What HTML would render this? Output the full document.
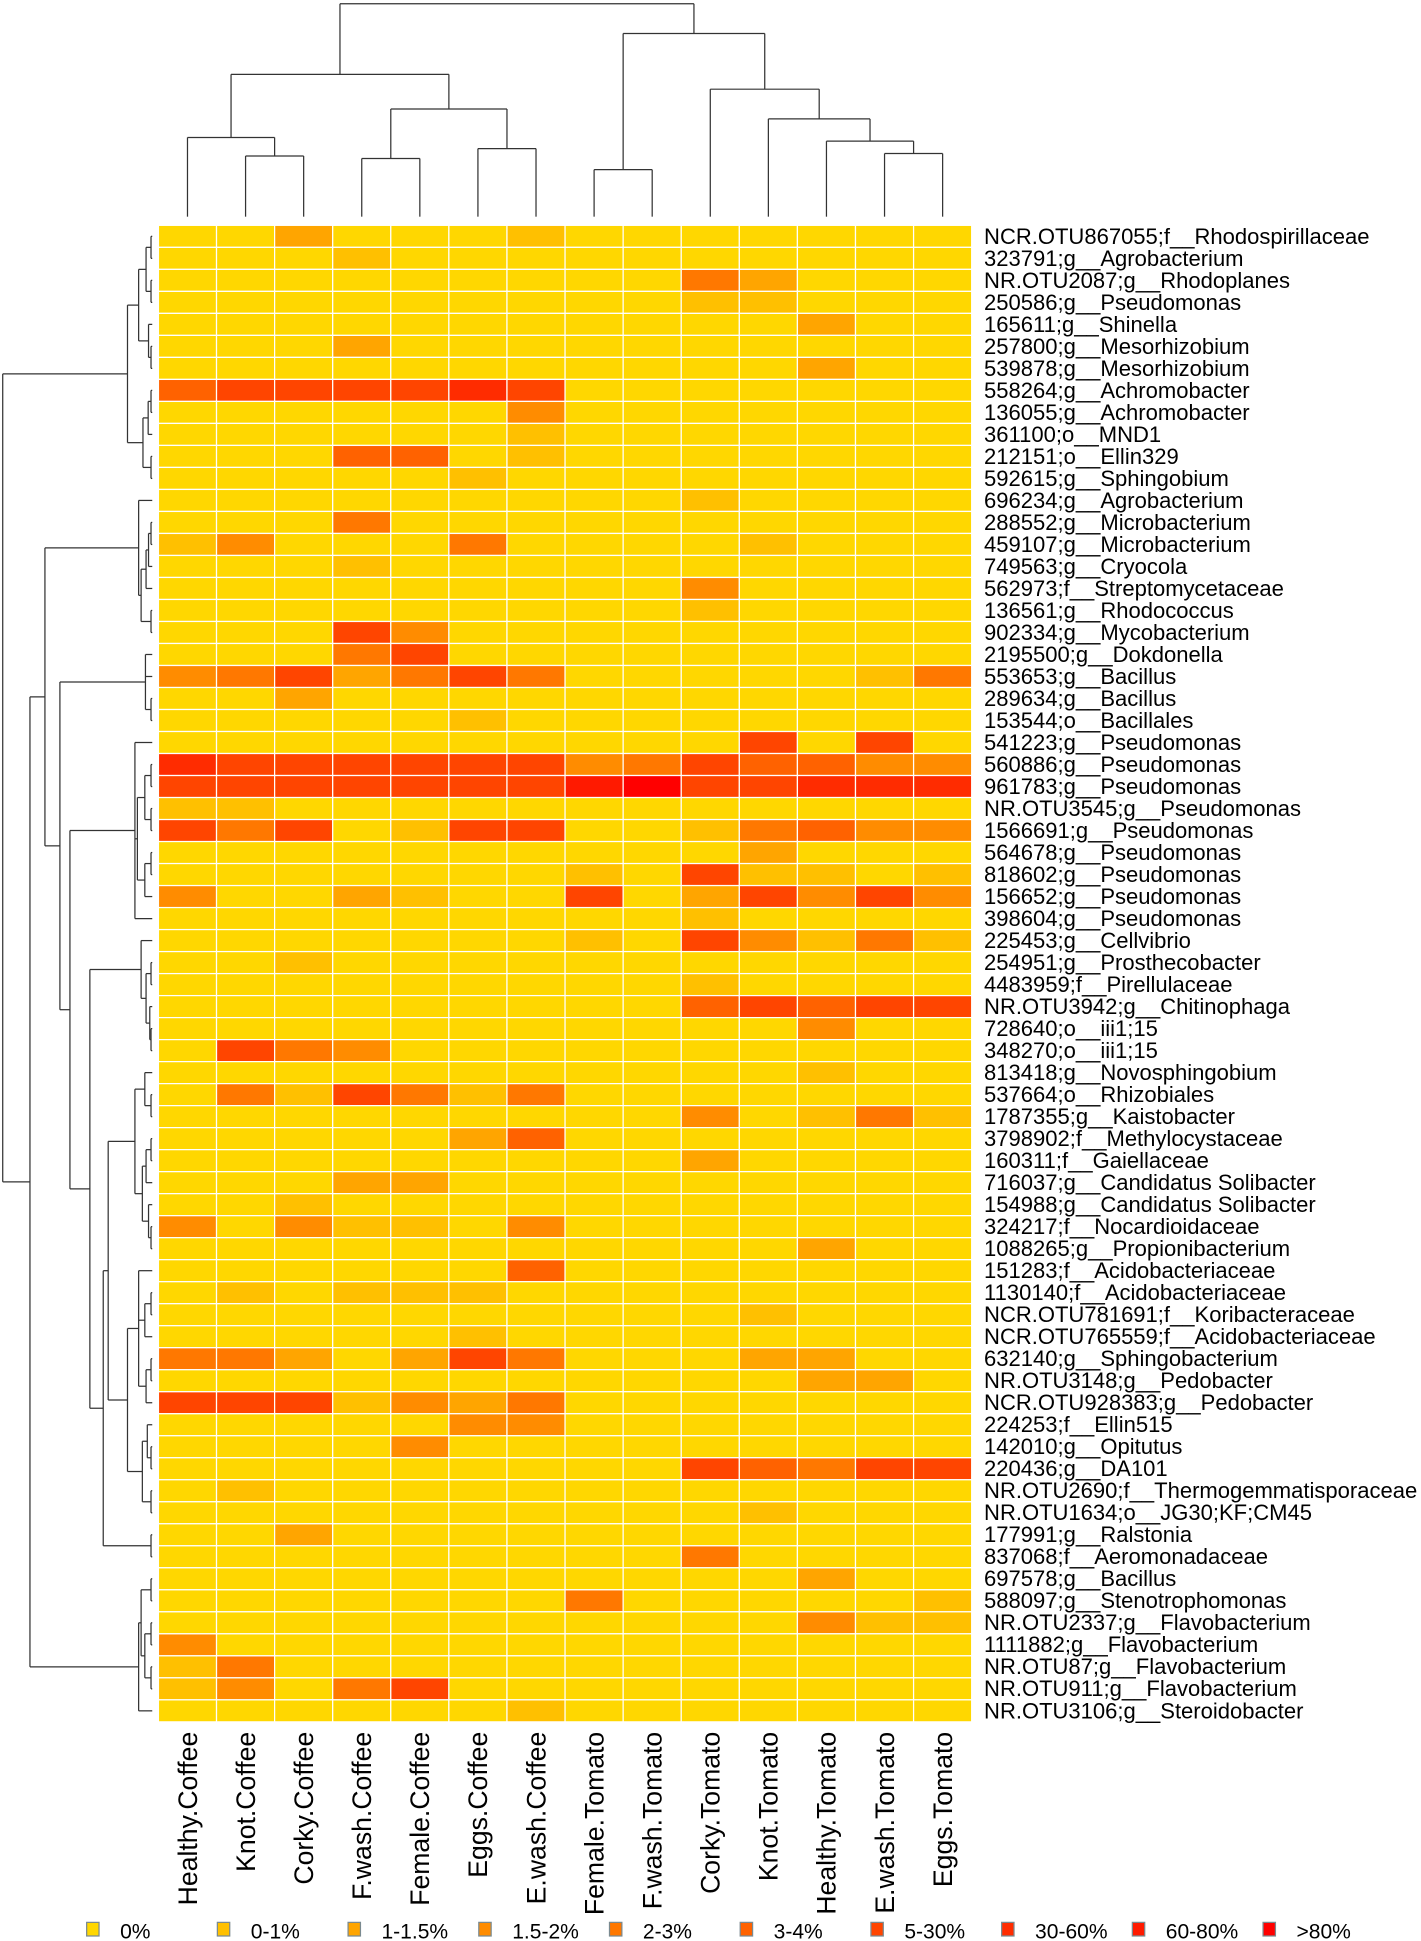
<!DOCTYPE html>
<html><head><meta charset="utf-8">
<style>
html,body{margin:0;padding:0;background:#fff;}
svg{display:block;font-family:"Liberation Sans",sans-serif;}
</style></head>
<body>
<svg id="chart" width="1421" height="1941" viewBox="0 0 1148 1568" xmlns="http://www.w3.org/2000/svg">
<g id="dendro-top"></g>
<g id="dendro-left"></g>
<g id="cells"></g>
<g id="rowlabels"></g>
<g id="collabels"></g>
<g id="legend"></g>
</svg>
<script>
const columns = ["Healthy.Coffee","Knot.Coffee","Corky.Coffee","F.wash.Coffee","Female.Coffee","Eggs.Coffee","E.wash.Coffee","Female.Tomato","F.wash.Tomato","Corky.Tomato","Knot.Tomato","Healthy.Tomato","E.wash.Tomato","Eggs.Tomato"];
const rowLabels = ["NCR.OTU867055;f__Rhodospirillaceae","323791;g__Agrobacterium","NR.OTU2087;g__Rhodoplanes","250586;g__Pseudomonas","165611;g__Shinella","257800;g__Mesorhizobium","539878;g__Mesorhizobium","558264;g__Achromobacter","136055;g__Achromobacter","361100;o__MND1","212151;o__Ellin329","592615;g__Sphingobium","696234;g__Agrobacterium","288552;g__Microbacterium","459107;g__Microbacterium","749563;g__Cryocola","562973;f__Streptomycetaceae","136561;g__Rhodococcus","902334;g__Mycobacterium","2195500;g__Dokdonella","553653;g__Bacillus","289634;g__Bacillus","153544;o__Bacillales","541223;g__Pseudomonas","560886;g__Pseudomonas","961783;g__Pseudomonas","NR.OTU3545;g__Pseudomonas","1566691;g__Pseudomonas","564678;g__Pseudomonas","818602;g__Pseudomonas","156652;g__Pseudomonas","398604;g__Pseudomonas","225453;g__Cellvibrio","254951;g__Prosthecobacter","4483959;f__Pirellulaceae","NR.OTU3942;g__Chitinophaga","728640;o__iii1;15","348270;o__iii1;15","813418;g__Novosphingobium","537664;o__Rhizobiales","1787355;g__Kaistobacter","3798902;f__Methylocystaceae","160311;f__Gaiellaceae","716037;g__Candidatus Solibacter","154988;g__Candidatus Solibacter","324217;f__Nocardioidaceae","1088265;g__Propionibacterium","151283;f__Acidobacteriaceae","1130140;f__Acidobacteriaceae","NCR.OTU781691;f__Koribacteraceae","NCR.OTU765559;f__Acidobacteriaceae","632140;g__Sphingobacterium","NR.OTU3148;g__Pedobacter","NCR.OTU928383;g__Pedobacter","224253;f__Ellin515","142010;g__Opitutus","220436;g__DA101","NR.OTU2690;f__Thermogemmatisporaceae","NR.OTU1634;o__JG30;KF;CM45","177991;g__Ralstonia","837068;f__Aeromonadaceae","697578;g__Bacillus","588097;g__Stenotrophomonas","NR.OTU2337;g__Flavobacterium","1111882;g__Flavobacterium","NR.OTU87;g__Flavobacterium","NR.OTU911;g__Flavobacterium","NR.OTU3106;g__Steroidobacter"];
const legendLabels = ["0%","0-1%","1-1.5%","1.5-2%","2-3%","3-4%","5-30%","30-60%","60-80%",">80%"];
const levelColors = ["#FFD700","#FFC000","#FFA500","#FF8C00","#FF7800","#FF6200","#FF4500","#FF2C00","#FF1A00","#FF0000"];
// abundance level per row (index into legendLabels), columns in `columns` order
const levels = [
[0,0,2,0,0,0,1,0,0,0,0,0,0,0],
[0,0,0,1,0,0,0,0,0,0,0,0,0,0],
[0,0,0,0,0,0,0,0,0,4,2,0,0,0],
[0,0,0,0,0,0,0,0,0,1,1,0,0,0],
[0,0,0,0,0,0,0,0,0,0,0,2,0,0],
[0,0,0,2,0,0,0,0,0,0,0,0,0,0],
[0,0,0,0,0,0,0,0,0,0,0,2,0,0],
[5,6,6,6,6,7,6,0,0,0,0,0,0,0],
[0,0,0,0,0,0,3,0,0,0,0,0,0,0],
[0,0,0,0,0,0,1,0,0,0,0,0,0,0],
[0,0,0,5,5,0,1,0,0,0,0,0,0,0],
[0,0,0,0,0,1,0,0,0,0,0,0,0,0],
[0,0,0,0,0,0,0,0,0,1,0,0,0,0],
[0,0,0,4,0,0,0,0,0,0,0,0,0,0],
[1,3,0,0,0,4,0,0,0,0,1,0,0,0],
[0,0,0,1,0,0,0,0,0,0,0,0,0,0],
[0,0,0,0,0,0,0,0,0,3,0,0,0,0],
[0,0,0,0,0,0,0,0,0,1,0,0,0,0],
[0,0,0,6,3,0,0,0,0,0,0,0,0,0],
[0,0,0,4,6,0,0,0,0,0,0,0,0,0],
[3,4,6,2,4,6,4,0,0,0,0,0,1,4],
[0,0,2,0,0,0,0,0,0,0,0,0,0,0],
[0,0,0,0,0,1,0,0,0,0,0,0,0,0],
[0,0,0,0,0,0,0,0,0,0,6,0,6,0],
[7,6,6,6,6,6,6,3,4,6,5,5,3,3],
[6,6,6,6,6,6,6,8,9,6,6,7,7,7],
[1,1,0,0,0,0,0,0,0,0,0,0,0,0],
[6,4,6,0,1,6,6,0,0,1,4,5,3,3],
[0,0,0,0,0,0,0,0,0,0,2,0,0,0],
[0,0,0,0,0,0,0,1,0,6,1,1,0,1],
[3,0,0,2,1,0,0,6,0,2,6,3,6,3],
[0,0,0,0,0,0,0,0,0,1,0,0,0,0],
[0,0,0,0,0,0,0,1,0,6,3,1,4,1],
[0,0,1,0,0,0,0,0,0,0,0,0,0,0],
[0,0,0,0,0,0,0,0,0,1,0,0,0,0],
[0,0,0,0,0,0,0,0,0,5,6,5,6,6],
[0,0,0,0,0,0,0,0,0,0,0,3,0,0],
[0,6,4,3,0,0,0,0,0,0,0,0,0,0],
[0,0,0,0,0,0,0,0,0,0,0,1,0,0],
[0,4,1,6,4,1,4,0,0,0,0,0,0,0],
[0,0,0,0,0,0,0,0,0,3,0,1,4,1],
[0,0,0,0,0,2,5,0,0,0,0,0,0,0],
[0,0,0,0,0,0,0,0,0,2,0,0,0,0],
[0,0,0,2,2,0,0,0,0,0,0,0,0,0],
[0,0,1,0,0,0,0,0,0,0,0,0,0,0],
[3,0,3,1,1,0,3,0,0,0,0,0,0,0],
[0,0,0,0,0,0,0,0,0,0,0,2,0,0],
[0,0,0,0,0,0,5,0,0,0,0,0,0,0],
[0,1,0,1,1,1,0,0,0,0,0,0,0,0],
[0,0,0,0,0,0,0,0,0,0,1,0,0,0],
[0,0,0,0,0,1,0,0,0,0,0,0,0,0],
[4,4,2,0,2,6,4,0,0,0,2,2,0,0],
[0,0,0,0,0,0,0,0,0,0,0,2,2,0],
[6,6,6,1,3,2,4,0,0,0,0,0,0,0],
[0,0,0,0,0,3,3,0,0,0,0,0,0,0],
[0,0,0,0,3,0,0,0,0,0,0,0,0,0],
[0,0,0,0,0,0,0,0,0,6,5,4,6,6],
[0,1,0,0,0,0,0,0,0,0,0,0,0,0],
[0,0,0,0,0,0,0,0,0,0,1,0,0,0],
[0,0,2,0,0,0,0,0,0,0,0,0,0,0],
[0,0,0,0,0,0,0,0,0,4,0,0,0,0],
[0,0,0,0,0,0,0,0,0,0,0,2,0,0],
[0,0,0,0,0,0,0,4,0,0,0,0,0,1],
[0,0,0,0,0,0,0,0,0,0,0,3,1,1],
[3,0,0,0,0,0,0,0,0,0,0,0,0,0],
[1,4,0,0,0,0,0,0,0,0,0,0,0,0],
[1,3,0,4,6,0,0,0,0,0,0,0,0,0],
[0,0,0,0,0,0,1,0,0,0,0,0,0,0]
];

const NS = "http://www.w3.org/2000/svg";
const X0 = 128, X1 = 785, Y0 = 182, Y1 = 1391;
const cw = (X1 - X0) / columns.length;
const rh = (Y1 - Y0) / rowLabels.length;
const colX = i => X0 + cw * i;
const rowY = r => Y0 + rh * r;
function mk(tag, attrs, parent) {
  const e = document.createElementNS(NS, tag);
  for (const k in attrs) e.setAttribute(k, attrs[k]);
  parent.appendChild(e);
  return e;
}
// cells
const gC = document.getElementById('cells');
levels.forEach((row, r) => row.forEach((v, c) => {
  const el = mk('rect', {x: colX(c), y: rowY(r), width: cw, height: rh, fill: levelColors[v], stroke: '#ffffff', 'stroke-width': 1}, gC);
  
  
}));
// row labels
const gR = document.getElementById('rowlabels');
rowLabels.forEach((t, r) => {
  const el = mk('text', {x: 795, y: rowY(r) + rh / 2 + 6, 'font-size': 17.8, fill: '#000'}, gR);
  el.textContent = t;
  
  
});
// column labels
const gCl = document.getElementById('collabels');
columns.forEach((t, c) => {
  const x = colX(c) + cw / 2 + 7.5, y = 1399;
  const el = mk('text', {x: x, y: y, 'font-size': 21.5, 'text-anchor': 'end', transform: 'rotate(-90 ' + x + ' ' + y + ')', fill: '#000'}, gCl);
  el.textContent = t;
  
  
});
// legend
const gL = document.getElementById('legend');
legendLabels.forEach((t, i) => {
  const x = 70 + i * 105.6;
  const sq = mk('rect', {x: x, y: 1553, width: 10, height: 11, fill: levelColors[i], stroke: '#7a8a90', 'stroke-width': 1}, gL);
  
  
  const tx = mk('text', {x: x + 27, y: 1566, 'font-size': 17, fill: '#000'}, gL);
  tx.textContent = t;
  
  
});
// dendrograms: node = {h, kids}; leaf = integer index
function N(h, ...kids) { return {h: h, kids: kids}; }
function drawTree(node, parent, pos, leafH, horizontal) {
  if (typeof node === 'number') return [pos(node), leafH];
  const res = node.kids.map(k => drawTree(k, parent, pos, leafH, horizontal));
  const ps = res.map(r => r[0]);
  const lo = Math.min(...ps), hi = Math.max(...ps);
  res.forEach(([p, h]) => {
    const l = horizontal ? mk('line', {x1: node.h, y1: p, x2: h, y2: p}, parent) : mk('line', {x1: p, y1: node.h, x2: p, y2: h}, parent);
    l.setAttribute('stroke', '#333');
    l.setAttribute('stroke-width', 1);
  });
  const v = horizontal ? mk('line', {x1: node.h, y1: lo, x2: node.h, y2: hi}, parent) : mk('line', {x1: lo, y1: node.h, x2: hi, y2: node.h}, parent);
  v.setAttribute('stroke', '#333');
  v.setAttribute('stroke-width', 1);
  return [(lo + hi) / 2, node.h];
}
const topTree = N(3,
  N(60, N(111, 0, N(126, 1, 2)), N(88, N(128, 3, 4), N(120, 5, 6))),
  N(27, N(137, 7, 8), N(72, 9, N(96, 10, N(114, 11, N(124, 12, 13))))));
drawTree(topTree, document.getElementById('dendro-top'), i => colX(i) + cw / 2, 175, false);

const A = N(103, N(112, N(118, N(122,0,1), N(122,2,3)), N(120, 4, N(122,5,6))), N(115.5, N(119.7, N(122,7,8), 9), N(122,10,11)));
const B = N(112, 12, N(114, N(118, N(120, N(122,13,14), 15), 16), N(122,17,18)));
const C = N(117.5, 19, 20, N(122,21,22));
const D = N(109, 23, N(111, N(117, N(122,24,25), N(122,26,27)), N(117, N(122,28,29), 30)), 31);
const E = N(114, 32, N(118, N(122,33,34), N(121,35,N(122,36,37))));
const F = N(109, N(117, 38, N(122,39,40)), N(115, N(118, N(122,41,42), 43), N(120, 44, N(122,45,46))));
const G = N(103, N(112, 47, N(117, N(122,48,49), 50), N(118, N(122,51,52), 53)), N(115, N(119,54,N(122,55,56)), N(122,57,58)));
const H = N(112, N(114, N(122,61,62), N(117, N(122,63,64), N(122,65,66))), 67);
const leftTree = N(2.2, A, N(24.2, N(36.3, B, N(48.4, C, N(56.5, D, N(72.6, E, N(83.4, N(87.4, F, G), N(122,59,60)))))), H));
drawTree(leftTree, document.getElementById('dendro-left'), r => rowY(r) + rh / 2, 123, true);
</script>
</body></html>
